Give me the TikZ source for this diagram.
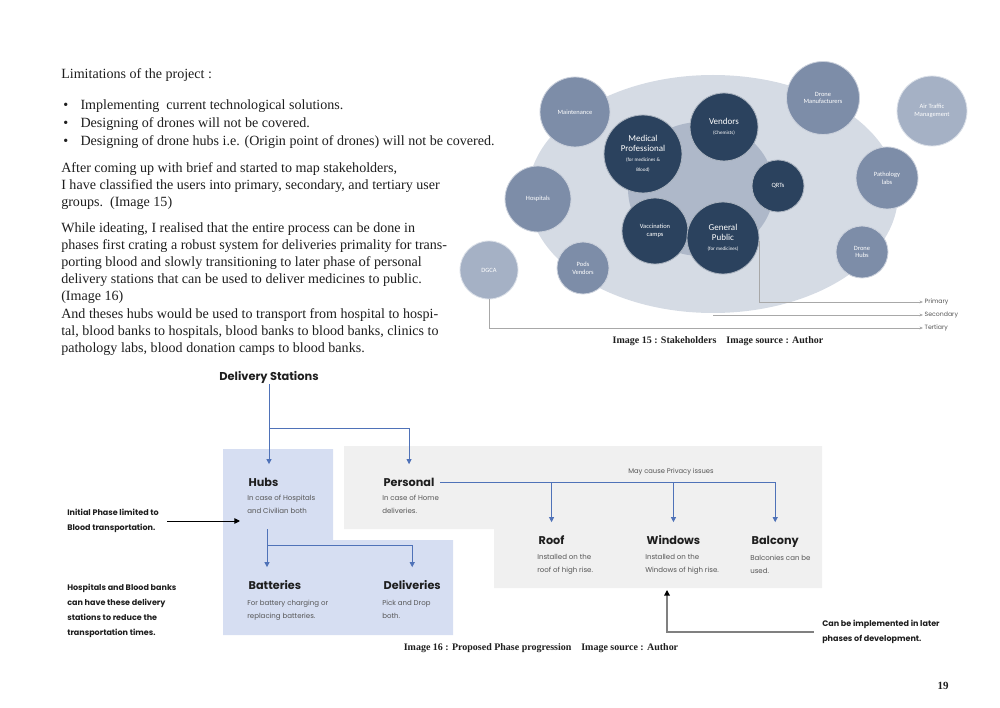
\documentclass[tikz,border=0pt]{standalone}
\usepackage{fontspec}
\setmainfont{Liberation Serif}
\setsansfont{Poppins}
\newfontfamily\circlefont{Carlito}
\usetikzlibrary{arrows.meta,shapes.geometric}

\definecolor{navy}{HTML}{2B425E}
\definecolor{slate}{HTML}{7D8DA8}
\definecolor{paleslate}{HTML}{A5B1C5}
\definecolor{outerfill}{HTML}{D5DBE4}
\definecolor{innerfill}{HTML}{AEB8C9}
\definecolor{hubfill}{HTML}{D6DEF2}
\definecolor{personalfill}{HTML}{F0F0F0}
\definecolor{flowblue}{HTML}{4F72B8}
\definecolor{legendgray}{HTML}{A8A8A8}
\definecolor{inkblack}{HTML}{1E1E1E}
\definecolor{descgray}{HTML}{555555}

\newcommand\subnote[1]{{\fontsize{3.6}{4.4}\selectfont #1}}

\begin{document}
\begin{tikzpicture}[x=0.025cm,y=-0.025cm]
  % Einstellungen
  \tikzset{
    bodytext/.style={anchor=north west, inner sep=0pt, align=left, text=inkblack,
      font=\fontsize{10}{12.1}\selectfont},
    diam/.style={minimum size=#1*0.025cm},
    stake/.style={circle, fill=#1, draw=white!60!#1, line width=0.6pt, text=white,
      inner sep=0pt, align=center, font=\circlefont\fontsize{4.6}{5.6}\selectfont},
    bigstake/.style={stake=navy, font=\circlefont\fontsize{6.4}{7.2}\selectfont},
    legend/.style={anchor=west, inner sep=1pt, text=descgray, font=\sffamily\fontsize{4.4}{5}\selectfont},
    legendline/.style={draw=legendgray, line width=0.5pt, -{Stealth[length=2.5pt,width=2pt]}},
    caption/.style={inner sep=0pt, text=inkblack, font=\bfseries\fontsize{7.1}{8}\selectfont},
    title/.style={anchor=west, inner sep=1pt, text height=0.75em, text depth=0.15em, text=inkblack,
      font=\sffamily\bfseries\fontsize{8}{9.6}\selectfont},
    desc/.style={anchor=north west, inner sep=0pt, align=left, text=descgray,
      font=\sffamily\fontsize{5}{9.2}\selectfont},
    notetext/.style={inner sep=0pt, align=left, text=inkblack,
      font=\sffamily\bfseries\fontsize{5.7}{10.5}\selectfont},
    flow/.style={draw=flowblue, line width=0.6pt, shorten >=7pt,
      -{Triangle[length=3.5pt,width=3.5pt]}},
    note/.style={draw=gray, line width=0.9pt, -{Triangle[length=4pt,width=4pt,color=black]}}
  }
  \useasboundingbox (0,0) rectangle (1000,708);

  % Text links
  \node[bodytext] (lim) at (61,68) {Limitations of the project :};
  \node[bodytext, font=\fontsize{10}{12.8}\selectfont] (bul) at (63,99)
    {\makebox[12.3pt][l]{\textbullet}Implementing\ \ current technological solutions.\\
     \makebox[12.3pt][l]{\textbullet}Designing of drones will not be covered.\\
     \makebox[12.3pt][l]{\textbullet}Designing of drone hubs i.e. (Origin point of drones) will not be covered.};
  \node[bodytext] (para1) at (61,162)
    {After coming up with brief and started to map stakeholders,\\
     I have classified the users into primary, secondary, and tertiary user\\
     groups.\ \ (Image 15)};
  \node[bodytext] (para2) at (61,222)
    {While ideating, I realised that the entire process can be done in\\
     phases first crating a robust system for deliveries primality for trans-\\
     porting blood and slowly transitioning to later phase of personal\\
     delivery stations that can be used to deliver medicines to public.\\
     (Image 16)};
  \node[bodytext] (para3) at (61,308.5)
    {And theses hubs would be used to transport from hospital to hospi-\\
     tal, blood banks to hospitals, blood banks to blood banks, clinics to\\
     pathology labs, blood donation camps to blood banks.};

  % Stakeholder
  \node[ellipse, fill=outerfill, minimum width=370*0.025cm, minimum height=238*0.025cm] (outer) at (713,194) {};
  \node[ellipse, fill=innerfill, minimum width=146*0.025cm, minimum height=134*0.025cm] (inner) at (701,189) {};

  \node[stake=slate, diam=70] (maint) at (575,112) {Maintenance};
  \node[stake=slate, diam=66] (hosp) at (538,199) {Hospitals};
  \node[stake=slate, diam=52] (pods) at (583,268) {Pods\\Vendors};
  \node[stake=paleslate, diam=58] (dgca) at (489,270) {DGCA};
  \node[stake=slate, diam=73] (dman) at (823,98) {Drone\\Manufacturers};
  \node[stake=paleslate, diam=70] (atm) at (932,111) {Air Traffic\\Management};
  \node[stake=slate, diam=62] (path) at (887,178) {Pathology\\labs};
  \node[stake=slate, diam=52] (dhub) at (862,252) {Drone\\Hubs};

  \node[bigstake, diam=78] (medic) at (643,154) {Medical\\Professional\\\subnote{(for medicines \&}\\\subnote{Blood)}};
  \node[bigstake, diam=68] (vend) at (724,127) {Vendors\\\subnote{(Chemists)}};
  \node[stake=navy, diam=52] (qrt) at (778,186) {QRTs};
  \node[stake=navy, diam=66] (vacc) at (655,231) {Vaccination\\camps};
  \node[bigstake, diam=72] (gp) at (723,238) {General\\Public\\\subnote{(for medicines)}};

  \node[legend] (prim) at (923,302) {Primary};
  \node[legend] (sec) at (923,315) {Secondary};
  \node[legend] (tert) at (923,328) {Tertiary};
  \draw[legendline] (gp.-5) |- (prim.west);
  \draw[legendline] (outer.south |- sec.west) -- (sec.west);
  \draw[legendline] (dgca.south) |- (tert.west);

  \node[caption] (cap15) at (718,341) {Image 15 : Stakeholders\ \ \ \ Image source : Author};

  % Phasen
  \fill[hubfill] (223,449) -- (333,449) -- (333,540) -- (453,540) -- (453,635) -- (223,635) -- cycle;
  \fill[personalfill] (344,446) -- (822,446) -- (822,588) -- (494,588) -- (494,529) -- (344,529) -- cycle;

  \node[title, anchor=center, font=\sffamily\bfseries\fontsize{8.1}{10}\selectfont] (ds) at (269,376) {Delivery Stations};

  \node[title] (hubs) at (247,482) {Hubs};
  \node[desc] (hubsdesc) at (247,494.5) {In case of Hospitals\\and Civilian both};
  \node[title] (pers) at (382,482) {Personal};
  \node[desc] (persdesc) at (382,494.5) {In case of Home\\deliveries.};
  \node[title] (batt) at (247,585) {Batteries};
  \node[desc] (battdesc) at (247,599.5) {For battery charging or\\replacing batteries.};
  \node[title] (deliv) at (382,585) {Deliveries};
  \node[desc] (delivdesc) at (382,599.5) {Pick and Drop\\both.};
  \node[title] (roof) at (537,540) {Roof};
  \node[desc] (roofdesc) at (537,554.5) {Installed on the\\roof of high rise.};
  \node[title] (wind) at (645,540) {Windows};
  \node[desc] (winddesc) at (645,554.5) {Installed on the\\Windows of high rise.};
  \node[title] (balc) at (750,540) {Balcony};
  \node[desc] (balcdesc) at (750,554.5) {Balconies can be\\used.};
  \node[desc, anchor=center, font=\sffamily\fontsize{4.8}{6}\selectfont] (privacy) at (671,472) {May cause Privacy issues};

  \coordinate (dssplit) at (269,428);
  \coordinate (hubsout) at (267,529);
  \coordinate (hubsplit) at (267,545);
  \draw[flow] (ds) -- (ds |- hubs.north);
  \draw[flow] (dssplit) -| (pers.north);
  \draw[flow] (hubsout) -- (hubsout |- batt.north);
  \draw[flow] (hubsplit) -| (deliv.north);
  \draw[flow, shorten <=3pt] (pers.east) -| (roof.north);
  \draw[flow, shorten <=3pt] (pers.east) -| (wind.north);
  \draw[flow, shorten <=3pt] (pers.east) -| (balc.north);

  % Notizen
  \node[notetext, anchor=west] (initnote) at (67,521) {Initial Phase limited to\\Blood transportation.};
  \node[notetext, anchor=north west, font=\sffamily\bfseries\fontsize{5.7}{10.6}\selectfont] (hospnote) at (67,584)
    {Hospitals and Blood banks\\can have these delivery\\stations to reduce the\\transportation times.};
  \node[notetext, anchor=west] (laternote) at (822,632) {Can be implemented in later\\phases of development.};
  \coordinate (laterend) at (667,590);
  \draw[note, draw=black, line width=0.6pt, shorten <=6pt, shorten >=5pt] (initnote.east) -- (initnote.east -| hubsdesc.west);
  \draw[note, shorten <=6pt] (laternote.west) -| (laterend);

  \node[caption] (cap16) at (541,648) {Image 16 : Proposed Phase progression\ \ \ \ Image source : Author};
  \node[caption, font=\bfseries\fontsize{7.8}{9}\selectfont] (pageno) at (943,686) {19};
\end{tikzpicture}
\end{document}
